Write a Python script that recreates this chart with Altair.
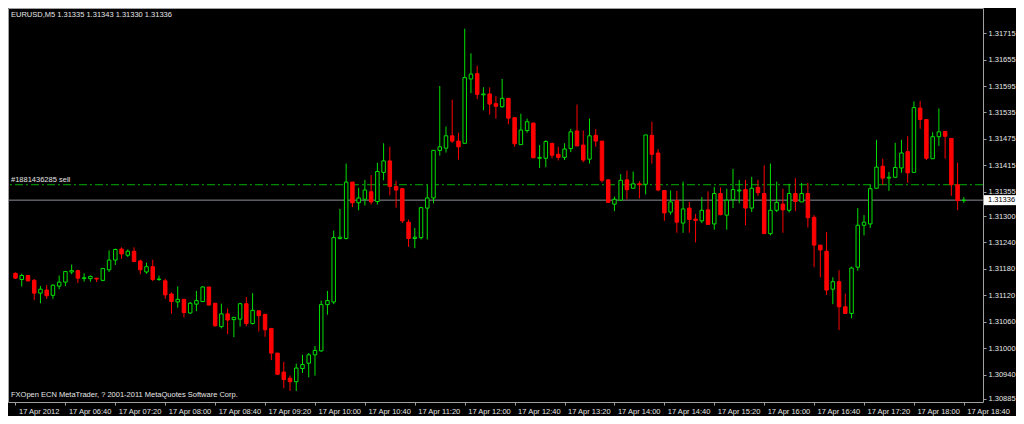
import altair as alt
import pandas as pd

# ---- data (EURUSD M5, 17 Apr 2012 06:00 .. 18:40) ----
opens = [1.31170, 1.31156, 1.31165, 1.31154, 1.31125, 1.31132, 1.31120, 1.31141, 1.31150, 1.31173,
         1.31176, 1.31158, 1.31158, 1.31159, 1.31154, 1.31178, 1.31200, 1.31225, 1.31211, 1.31220,
         1.31198, 1.31173, 1.31185, 1.31156, 1.31153, 1.31123, 1.31105, 1.31111, 1.31080, 1.31100,
         1.31106, 1.31139, 1.31102, 1.31049, 1.31078, 1.31065, 1.31066, 1.31101, 1.31056, 1.31085,
         1.31077, 1.31045, 1.30989, 1.30946, 1.30932, 1.30924, 1.30954, 1.30966, 1.30985, 1.30994,
         1.31099, 1.31105, 1.31249, 1.31249, 1.31377, 1.31330, 1.31338, 1.31355, 1.31333, 1.31399,
         1.31425, 1.31367, 1.31362, 1.31286, 1.31249, 1.31251, 1.31318, 1.31341, 1.31449, 1.31454,
         1.31482, 1.31470, 1.31465, 1.31611, 1.31623, 1.31575, 1.31577, 1.31555, 1.31548, 1.31567,
         1.31523, 1.31462, 1.31494, 1.31511, 1.31431, 1.31431, 1.31465, 1.31440, 1.31433, 1.31453,
         1.31493, 1.31461, 1.31429, 1.31483, 1.31470, 1.31382, 1.31327, 1.31336, 1.31382, 1.31363,
         1.31373, 1.31372, 1.31483, 1.31443, 1.31358, 1.31309, 1.31335, 1.31284, 1.31318, 1.31293,
         1.31289, 1.31314, 1.31282, 1.31351, 1.31302, 1.31337, 1.31357, 1.31360, 1.31318, 1.31365,
         1.31351, 1.31260, 1.31313, 1.31327, 1.31313, 1.31351, 1.31332, 1.31351, 1.31297, 1.31234,
         1.31220, 1.31134, 1.31151, 1.31094, 1.31079, 1.31184, 1.31279, 1.31282, 1.31363, 1.31413,
         1.31386, 1.31388, 1.31409, 1.31446, 1.31399, 1.31545, 1.31519, 1.31430, 1.31480, 1.31492,
         1.31476, 1.31371, 1.31335]
highs = [1.31172, 1.31169, 1.31166, 1.31157, 1.31141, 1.31143, 1.31145, 1.31165, 1.31174, 1.31190,
         1.31178, 1.31170, 1.31165, 1.31159, 1.31181, 1.31222, 1.31226, 1.31229, 1.31224, 1.31229,
         1.31201, 1.31194, 1.31201, 1.31165, 1.31158, 1.31127, 1.31140, 1.31111, 1.31105, 1.31130,
         1.31141, 1.31139, 1.31102, 1.31101, 1.31090, 1.31071, 1.31103, 1.31116, 1.31125, 1.31085,
         1.31077, 1.31045, 1.30989, 1.30969, 1.30938, 1.30965, 1.30985, 1.30989, 1.31005, 1.31108,
         1.31130, 1.31267, 1.31316, 1.31419, 1.31377, 1.31364, 1.31382, 1.31393, 1.31421, 1.31465,
         1.31457, 1.31380, 1.31362, 1.31292, 1.31273, 1.31321, 1.31370, 1.31449, 1.31595, 1.31503,
         1.31564, 1.31489, 1.31725, 1.31669, 1.31641, 1.31592, 1.31592, 1.31572, 1.31611, 1.31568,
         1.31524, 1.31532, 1.31521, 1.31511, 1.31461, 1.31472, 1.31465, 1.31457, 1.31465, 1.31498,
         1.31553, 1.31494, 1.31521, 1.31497, 1.31470, 1.31384, 1.31344, 1.31395, 1.31403, 1.31401,
         1.31379, 1.31484, 1.31514, 1.31452, 1.31358, 1.31358, 1.31357, 1.31378, 1.31332, 1.31305,
         1.31343, 1.31356, 1.31366, 1.31365, 1.31362, 1.31407, 1.31382, 1.31382, 1.31389, 1.31382,
         1.31415, 1.31419, 1.31378, 1.31362, 1.31373, 1.31386, 1.31375, 1.31375, 1.31302, 1.31234,
         1.31264, 1.31161, 1.31177, 1.31124, 1.31185, 1.31318, 1.31302, 1.31371, 1.31473, 1.31430,
         1.31400, 1.31466, 1.31473, 1.31481, 1.31560, 1.31561, 1.31519, 1.31490, 1.31544, 1.31492,
         1.31476, 1.31421, 1.31343]
lows = [1.31157, 1.31140, 1.31151, 1.31109, 1.31102, 1.31112, 1.31112, 1.31134, 1.31141, 1.31168,
        1.31148, 1.31151, 1.31151, 1.31150, 1.31152, 1.31173, 1.31189, 1.31203, 1.31207, 1.31195,
        1.31168, 1.31169, 1.31152, 1.31153, 1.31112, 1.31078, 1.31092, 1.31070, 1.31078, 1.31084,
        1.31105, 1.31097, 1.31049, 1.31045, 1.31032, 1.31025, 1.31049, 1.31050, 1.31054, 1.31038,
        1.31026, 1.30973, 1.30940, 1.30909, 1.30903, 1.30903, 1.30944, 1.30934, 1.30938, 1.30992,
        1.31076, 1.31100, 1.31247, 1.31247, 1.31320, 1.31313, 1.31324, 1.31326, 1.31326, 1.31381,
        1.31347, 1.31319, 1.31284, 1.31230, 1.31227, 1.31247, 1.31247, 1.31329, 1.31437, 1.31444,
        1.31466, 1.31428, 1.31465, 1.31579, 1.31565, 1.31540, 1.31530, 1.31521, 1.31546, 1.31508,
        1.31457, 1.31462, 1.31489, 1.31432, 1.31409, 1.31411, 1.31431, 1.31426, 1.31427, 1.31445,
        1.31459, 1.31422, 1.31419, 1.31457, 1.31376, 1.31330, 1.31311, 1.31334, 1.31338, 1.31362,
        1.31340, 1.31349, 1.31419, 1.31356, 1.31289, 1.31303, 1.31262, 1.31262, 1.31262, 1.31240,
        1.31284, 1.31280, 1.31269, 1.31302, 1.31269, 1.31318, 1.31329, 1.31279, 1.31309, 1.31346,
        1.31260, 1.31256, 1.31309, 1.31262, 1.31308, 1.31311, 1.31332, 1.31274, 1.31184, 1.31161,
        1.31121, 1.31100, 1.31041, 1.31079, 1.31068, 1.31176, 1.31256, 1.31273, 1.31363, 1.31371,
        1.31357, 1.31386, 1.31398, 1.31375, 1.31399, 1.31498, 1.31427, 1.31430, 1.31459, 1.31430,
        1.31346, 1.31313, 1.31330]
closes = [1.31159, 1.31165, 1.31153, 1.31125, 1.31134, 1.31119, 1.31143, 1.31150, 1.31174, 1.31176,
          1.31159, 1.31160, 1.31163, 1.31157, 1.31181, 1.31200, 1.31224, 1.31214, 1.31220, 1.31197,
          1.31178, 1.31185, 1.31156, 1.31157, 1.31121, 1.31106, 1.31111, 1.31081, 1.31102, 1.31108,
          1.31139, 1.31098, 1.31051, 1.31078, 1.31064, 1.31070, 1.31101, 1.31056, 1.31086, 1.31074,
          1.31042, 1.30989, 1.30941, 1.30929, 1.30924, 1.30955, 1.30963, 1.30985, 1.30995, 1.31099,
          1.31108, 1.31251, 1.31252, 1.31377, 1.31330, 1.31341, 1.31359, 1.31332, 1.31401, 1.31425,
          1.31367, 1.31359, 1.31289, 1.31249, 1.31252, 1.31319, 1.31341, 1.31449, 1.31457, 1.31482,
          1.31470, 1.31457, 1.31614, 1.31622, 1.31576, 1.31577, 1.31554, 1.31549, 1.31567, 1.31522,
          1.31464, 1.31495, 1.31514, 1.31432, 1.31433, 1.31469, 1.31438, 1.31433, 1.31452, 1.31491,
          1.31459, 1.31427, 1.31482, 1.31470, 1.31381, 1.31331, 1.31338, 1.31381, 1.31360, 1.31373,
          1.31371, 1.31484, 1.31440, 1.31359, 1.31307, 1.31332, 1.31286, 1.31316, 1.31292, 1.31290,
          1.31313, 1.31281, 1.31351, 1.31303, 1.31336, 1.31360, 1.31359, 1.31318, 1.31363, 1.31353,
          1.31260, 1.31313, 1.31331, 1.31314, 1.31351, 1.31333, 1.31351, 1.31296, 1.31234, 1.31223,
          1.31132, 1.31151, 1.31094, 1.31079, 1.31182, 1.31279, 1.31286, 1.31362, 1.31411, 1.31386,
          1.31388, 1.31410, 1.31443, 1.31398, 1.31546, 1.31519, 1.31431, 1.31480, 1.31491, 1.31481,
          1.31371, 1.31335, 1.31336]

time_labels = ["17 Apr 2012", "17 Apr 06:40", "17 Apr 07:20", "17 Apr 08:00", "17 Apr 08:40",
               "17 Apr 09:20", "17 Apr 10:00", "17 Apr 10:40", "17 Apr 11:20", "17 Apr 12:00",
               "17 Apr 12:40", "17 Apr 13:20", "17 Apr 14:00", "17 Apr 14:40", "17 Apr 15:20",
               "17 Apr 16:00", "17 Apr 16:40", "17 Apr 17:20", "17 Apr 18:00", "17 Apr 18:40"]
price_ticks = [1.31715, 1.31655, 1.31595, 1.31535, 1.31475, 1.31415, 1.31355, 1.31300,
               1.31240, 1.31180, 1.31120, 1.31060, 1.31000, 1.30940, 1.30885]

header_text = "EURUSD,M5  1.31335 1.31343 1.31330 1.31336"
order_text = "#1881436285 sell"
order_price = [1.31371]
bid_price = [1.31336]
footer_text = "FXOpen ECN MetaTrader, ? 2001-2011 MetaQuotes Software Corp."

# ---- layout / style ----
W, H = 975, 394
FONT = "Liberation Sans"
GREEN = "#00E000"
RED = "#FF0000"
GRAY = "#A0A0A0"
TXT = "#E6E6E6"

df = pd.DataFrame({"i": list(range(len(opens))), "open": opens, "high": highs,
                   "low": lows, "close": closes})

xscale = alt.Scale(domain=[-0.4, 154.27], nice=False, zero=False)
yscale = alt.Scale(domain=[1.30878, 1.31772], nice=False, zero=False)

label_array = "[" + ",".join("'" + s + "'" for s in time_labels) + "]"
xaxis = alt.Axis(values=list(range(0, 8 * len(time_labels), 8)),
                 labelExpr=label_array + "[round(datum.value/8)]",
                 title=None, grid=False, domain=False, tickColor=GRAY, tickSize=3,
                 labelColor=TXT, labelFont=FONT, labelFontSize=7.5, labelAlign="left",
                 labelBaseline="top", labelPadding=2, labelOffset=3, labelFlush=False,
                 labelOverlap=False)
yaxis = alt.Axis(orient="right", values=price_ticks, format=".5f", title=None, grid=False,
                 domain=False, tickColor=GRAY, tickSize=3, labelColor=TXT, labelFont=FONT,
                 labelFontSize=7.5, labelPadding=2, labelBaseline="middle",
                 labelOverlap=False, labelFlush=False)


def X(field):
    return alt.X(field, scale=xscale, axis=xaxis, title=None)


def Y(field):
    return alt.Y(field, scale=yscale, axis=yaxis, title=None)


bull = "datum.close >= datum.open"

wicks = alt.Chart(df).mark_rule(strokeWidth=1).encode(
    x=X("i:Q"), y=Y("low:Q"), y2="high:Q",
    color=alt.condition(bull, alt.value(GREEN), alt.value(RED)),
)

bodies = alt.Chart(df).mark_bar(size=3.5, strokeWidth=1).encode(
    x=X("i:Q"), y=Y("open:Q"), y2="close:Q",
    fill=alt.condition(bull, alt.value("black"), alt.value(RED)),
    stroke=alt.condition(bull, alt.value(GREEN), alt.value(RED)),
)

bid_df = pd.DataFrame({"p": bid_price, "t": ["%.5f" % bid_price[0]]})
order_df = pd.DataFrame({"p": order_price, "t": [order_text]})

bid_line = alt.Chart(bid_df).mark_rule(color="#8A8F96", strokeWidth=1).encode(y=Y("p:Q"))

order_line = alt.Chart(order_df).mark_rule(color="#00B000", strokeWidth=1,
                                           strokeDash=[8, 3, 2, 3]).encode(y=Y("p:Q"))

order_label = alt.Chart(order_df).mark_text(align="left", baseline="bottom", dy=-1,
                                            font=FONT, fontSize=7.5, color=TXT).encode(
    x=alt.value(3), y=Y("p:Q"), text="t:N")

bid_box = alt.Chart(bid_df).mark_rect(color="white", yOffset=-5, y2Offset=5).encode(
    x=alt.value(W + 1), x2=alt.value(W + 33), y=Y("p:Q"), y2="p:Q")

bid_text = alt.Chart(bid_df).mark_text(align="left", baseline="middle", font=FONT,
                                       fontSize=7.5, color="black").encode(
    x=alt.value(W + 5), y=Y("p:Q"), text="t:N")

hdr_df = pd.DataFrame({"t": [header_text]})
ftr_df = pd.DataFrame({"t": [footer_text]})

header = alt.Chart(hdr_df).mark_text(align="left", baseline="top", font=FONT,
                                     fontSize=7.5, color=TXT).encode(
    x=alt.value(3), y=alt.value(3), text="t:N")
footer = alt.Chart(ftr_df).mark_text(align="left", baseline="bottom", font=FONT,
                                     fontSize=7.5, color=TXT).encode(
    x=alt.value(3), y=alt.value(H - 3), text="t:N")

chart = alt.layer(
    order_line, bid_line, wicks, bodies, order_label, header, footer, bid_box, bid_text
).properties(
    width=W, height=H, background="black",
    padding={"left": 0, "top": 0, "right": 33, "bottom": 14},
    autosize=alt.AutoSizeParams(type="none"),
).configure_view(stroke=GRAY, strokeWidth=1)

chart.save("out.html", embed_options={"renderer": "svg", "actions": False})
